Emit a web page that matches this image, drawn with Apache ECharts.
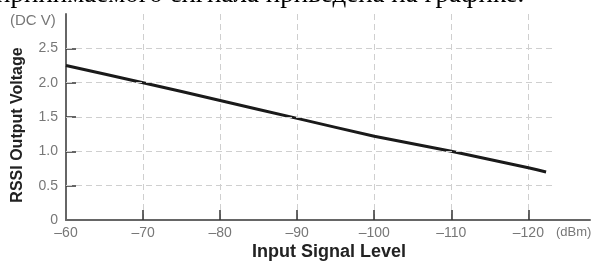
<!DOCTYPE html>
<html>
<head>
<meta charset="utf-8">
<script src="https://cdn.jsdelivr.net/npm/echarts@6/dist/echarts.min.js"></script>
<style>
  html, body { margin: 0; padding: 0; background: #fff; }
  #chart { width: 591px; height: 264px; }
</style>
</head>
<body>
<div id="chart"></div>
<script>
// values
var inputLevel = [-60, -70, -80, -90, -100, -110, -120, -122.3];
var rssiVolts = [2.25, 2.0, 1.74, 1.48, 1.22, 1.0, 0.76, 0.70];
var xTickValues = [-60, -70, -80, -90, -100, -110, -120];
var xGridValues = [-70, -80, -90, -100, -110, -120];
var yTickValues = [0, 0.5, 1.0, 1.5, 2.0, 2.5];
var yGridValues = [0.5, 1.0, 1.5, 2.0, 2.5];
var gridEnd = -123.2;

var ink = '#1a1a1a';
var axisGray = '#666';
var labelGray = '#777';
var gridGray = '#cfcfcf';

var points = inputLevel.map(function(x, i) { return [x, rssiVolts[i]]; });
var hLines = yGridValues.map(function(v) {
  return [{ coord: [-60, v] }, { coord: [gridEnd, v] }];
});

var chart = echarts.init(document.getElementById('chart'), null, { renderer: 'canvas' });
chart.setOption({
  animation: false,
  backgroundColor: '#fff',
  grid: { left: 66, right: 1, top: 14, bottom: 44 },
  xAxis: {
    type: 'value',
    inverse: true,
    min: -128,
    max: -60,
    interval: 10,
    axisLine: { onZero: false, lineStyle: { color: axisGray, width: 2 } },
    axisTick: { inside: true, length: 10, customValues: xGridValues, lineStyle: { color: '#333', width: 1.5 } },
    axisLabel: {
      customValues: xTickValues,
      color: labelGray,
      fontFamily: 'Liberation Sans',
      fontSize: 14,
      margin: 6,
      formatter: function(v) { return '\u2013' + Math.abs(v); }
    },
    splitLine: { show: true, lineStyle: { color: gridGray, type: [6, 4], width: 1 } }
  },
  yAxis: {
    type: 'value',
    min: 0,
    max: 3,
    interval: 0.5,
    axisLine: { show: true, lineStyle: { color: axisGray, width: 2 } },
    axisTick: { show: true, inside: true, length: 10, customValues: yGridValues, lineStyle: { color: '#333', width: 1.5 } },
    axisLabel: {
      customValues: yTickValues,
      color: labelGray,
      fontFamily: 'Liberation Sans',
      fontSize: 14,
      margin: 8,
      formatter: function(v) { return v === 0 ? '0' : v.toFixed(1); }
    },
    splitLine: { show: false }
  },
  series: [{
    type: 'line',
    data: points,
    showSymbol: false,
    smooth: 0.15,
    lineStyle: { color: ink, width: 3 },
    markLine: {
      silent: true,
      symbol: 'none',
      label: { show: false },
      lineStyle: { color: gridGray, type: [6, 4], width: 1 },
      data: hLines
    }
  }],
  graphic: [
    {
      type: 'text', left: -4, top: -19,
      style: { text: 'принимаемого сигнала приведена на графике.', font: '27px "Liberation Serif"', fill: '#000' }
    },
    {
      type: 'text', left: 10, top: 13,
      style: { text: '(DC V)', font: '15px "Liberation Sans"', fill: labelGray }
    },
    {
      type: 'text', left: 556, top: 226,
      style: { text: '(dBm)', font: '13px "Liberation Sans"', fill: labelGray }
    },
    {
      type: 'text', x: 18, y: 125, rotation: Math.PI / 2,
      style: { text: 'RSSI Output Voltage', font: 'bold 16px "Liberation Sans"', fill: '#222', align: 'center', verticalAlign: 'middle' }
    },
    {
      type: 'text', x: 329, y: 252,
      style: { text: 'Input Signal Level', font: 'bold 18px "Liberation Sans"', fill: '#222', align: 'center', verticalAlign: 'middle' }
    }
  ]
});
window.addEventListener('resize', function() { chart.resize(); });
</script>
</body>
</html>
